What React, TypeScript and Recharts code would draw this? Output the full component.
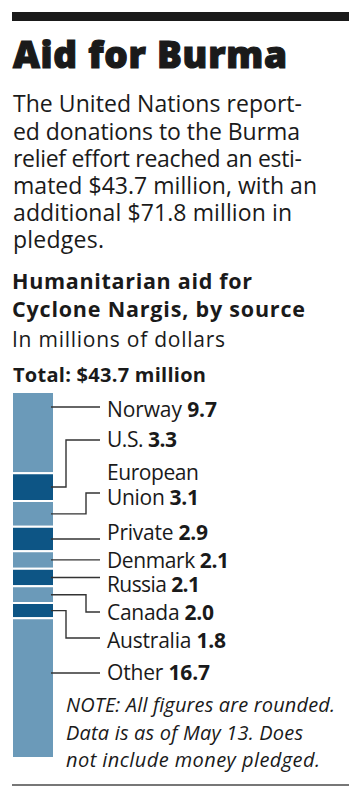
import * as React from 'react';
import { BarChart, Bar, XAxis, YAxis } from 'recharts';

// aid by source, millions of dollars (top to bottom in the bar)
const sources = ['Norway', 'U.S.', 'European Union', 'Private', 'Denmark', 'Russia', 'Canada', 'Australia', 'Other'];
const amounts = [9.7, 3.3, 3.1, 2.9, 2.1, 2.1, 2.0, 1.8, 16.7];
const valueLabels = ['9.7', '3.3', '3.1', '2.9', '2.1', '2.1', '2.0', '1.8', '16.7'];
const total = 43.7;

const row: Record<string, number | string> = { name: 'Total' };
sources.forEach((s, i) => {
  row[s] = amounts[i];
});
const data = [row];

const LIGHT = '#6b9ab9';
const DARK = '#0d5585';
const INK = '#1a1a1a';
const LEADER = '#333';
const FONT = '"Open Sans", sans-serif';

// where each label sits: text lines, baselines, where the leader meets it, elbow x, line widths
const labelLayout = [
  { lines: ['Norway'], base: [417], meet: 407, elbow: 0, w: [110] },
  { lines: ['U.S.'], base: [447], meet: 440, elbow: 66, w: [70] },
  { lines: ['European', 'Union'], base: [480, 505], meet: 493, elbow: 86, w: [92, 92] },
  { lines: ['Private'], base: [540], meet: 537, elbow: 0, w: [101] },
  { lines: ['Denmark'], base: [568], meet: 562, elbow: 0, w: [122] },
  { lines: ['Russia'], base: [592], meet: 580, elbow: 0, w: [93] },
  { lines: ['Canada'], base: [620], meet: 612, elbow: 86, w: [107] },
  { lines: ['Australia'], base: [648], meet: 638, elbow: 66, w: [119] },
  { lines: ['Other'], base: [680], meet: 673, elbow: 0, w: [103] },
];

const renderLeader = (i: number) => (p: any) => {
  const x = Number(p.x);
  const y = Number(p.y);
  const width = Number(p.width);
  const height = Number(p.height);
  const top = Math.min(y, y + height);
  const bot = Math.max(y, y + height);
  const L = labelLayout[i];
  const x0 = x + width - 3;
  const x1 = 100;
  const mid = (top + bot) / 2;
  const big = bot - top > 40 && L.meet > top && L.meet < bot;
  const y0 = big ? L.meet : mid;
  const d =
    Math.abs(y0 - L.meet) < 14 && !L.elbow
      ? `M${x0},${y0}H${x1}`
      : `M${x0},${y0}H${L.elbow}V${L.meet}H${x1}`;
  return (
    <g key={`lead-${i}`}>
      <path d={d} stroke={LEADER} strokeWidth={1.4} fill="none" />
      {L.lines.map((t, k) => (
        <text
          key={k}
          x={107}
          y={L.base[k]}
          fontFamily={FONT}
          fontSize={21}
          fill={INK}
          textLength={L.w[k]}
        >
          {t}
          {k === L.lines.length - 1 ? (
            <>
              {' '}
              <tspan fontWeight="bold">{valueLabels[i]}</tspan>
            </>
          ) : null}
        </text>
      ))}
    </g>
  );
};

const bodyLines = [
  'The United Nations report-',
  'ed donations to the Burma',
  'relief effort reached an esti-',
  'mated $43.7 million, with an',
  'additional $71.8 million in',
  'pledges.',
];
const bodyBase = [112, 139.5, 167, 194, 221, 248];
const bodyW = [289, 287, 289, 304, 279, 91];

const noteLines = ['NOTE: All figures are rounded.', 'Data is as of May 13. Does', 'not include money pledged.'];
const noteBase = [712, 740, 767];
const noteW = [269, 237, 254];

const App = () => {
  return (
    <div style={{ position: 'absolute', top: 0, left: 0, width: 362, height: 800, background: '#fff' }}>
      <svg width={362} height={800} style={{ position: 'absolute', top: 0, left: 0 }}>
        <rect x={12} y={12} width={337} height={9} fill={INK} />
        <text
          x={13}
          y={68}
          fontFamily={FONT}
          fontWeight={800}
          fontSize={37}
          fill={INK}
          stroke={INK}
          strokeWidth={1.2}
          textLength={274}
        >
          Aid for Burma
        </text>
        {bodyLines.map((t, k) => (
          <text key={k} x={13} y={bodyBase[k]} fontFamily={FONT} fontSize={23} fill={INK} textLength={bodyW[k]}>
            {t}
          </text>
        ))}
        <text x={12} y={289} fontFamily={FONT} fontWeight="bold" fontSize={21.5} fill={INK} textLength={240}>
          Humanitarian aid for
        </text>
        <text x={12} y={317} fontFamily={FONT} fontWeight="bold" fontSize={21.5} fill={INK} textLength={293}>
          Cyclone Nargis, by source
        </text>
        <text x={12} y={347} fontFamily={FONT} fontSize={21} fill={INK} textLength={213}>
          In millions of dollars
        </text>
        <text x={13} y={382} fontFamily={FONT} fontWeight="bold" fontSize={20} fill={INK} textLength={193}>
          {`Total: $${total} million`}
        </text>
        {noteLines.map((t, k) => (
          <text
            key={k}
            x={66}
            y={noteBase[k]}
            fontFamily={FONT}
            fontStyle="italic"
            fontSize={20}
            fill={INK}
            textLength={noteW[k]}
          >
            {t}
          </text>
        ))}
        <rect x={12} y={784} width={337} height={2} fill="#777" />
      </svg>
      <div style={{ position: 'absolute', top: 0, left: 0 }}>
        <BarChart
          width={362}
          height={800}
          data={data}
          margin={{ top: 392, right: 308, bottom: 42, left: 12 }}
          barCategoryGap={0}
        >
          <XAxis dataKey="name" hide />
          <YAxis type="number" domain={[0, total]} reversed hide />
          {sources.map((s, i) => (
            <Bar
              key={s}
              dataKey={s}
              stackId="aid"
              fill={i % 2 === 0 ? LIGHT : DARK}
              stroke="#fff"
              strokeWidth={2}
              isAnimationActive={false}
              label={renderLeader(i)}
            />
          ))}
        </BarChart>
      </div>
    </div>
  );
};

export default App;
